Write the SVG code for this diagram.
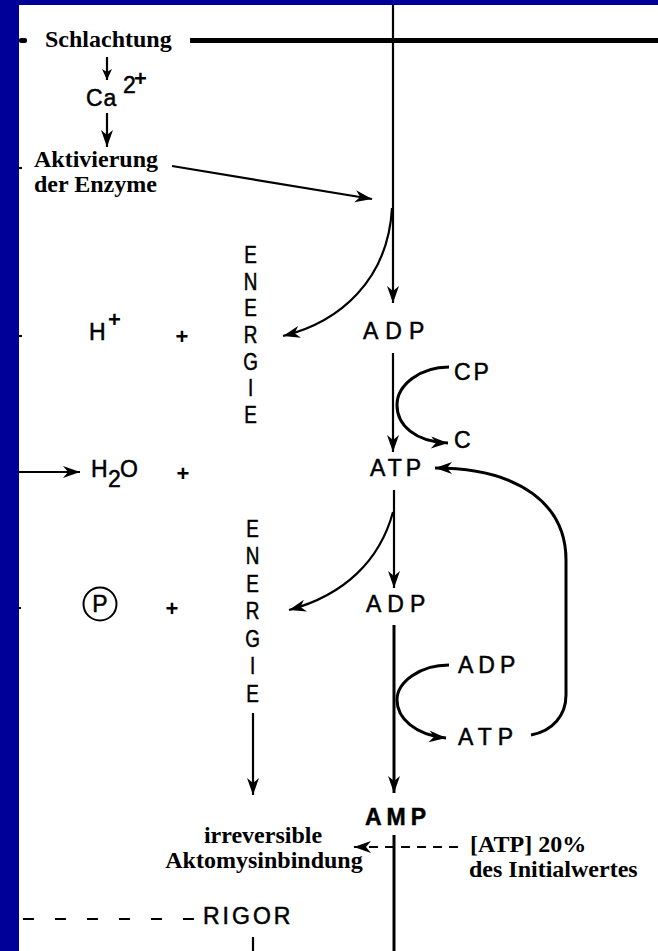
<svg xmlns="http://www.w3.org/2000/svg" width="658" height="951" viewBox="0 0 658 951">
<style>
.s{font-family:"Liberation Serif","Times New Roman",serif;font-weight:bold;font-size:24px;fill:#000}
.l{font-family:"Liberation Sans",Arial,sans-serif;font-size:23px;fill:#000;stroke:#000;stroke-width:0.5}
.ln{fill:none;stroke:#000;stroke-width:2.2}
.th{fill:none;stroke:#000;stroke-width:3}
.pl{font-family:"Liberation Sans",Arial,sans-serif;font-size:22px;font-weight:bold;fill:#000}
</style>
<defs>
<marker id="ah" markerUnits="userSpaceOnUse" viewBox="-18 -8 20 16" markerWidth="20" markerHeight="16" refX="0" refY="0" orient="auto"><path d="M0,0 L-17,-6 L-12,0 L-17,6 Z" fill="#000"/></marker>
<marker id="as" markerUnits="userSpaceOnUse" viewBox="-12 -6 14 12" markerWidth="14" markerHeight="12" refX="0" refY="0" orient="auto"><path d="M0,0 L-11,-5 L-8,0 L-11,5 Z" fill="#000"/></marker>
</defs>
<rect x="0" y="0" width="658" height="951" fill="#fff"/>
<rect x="0" y="0" width="658" height="5" fill="#000099"/>
<rect x="0" y="0" width="19" height="951" fill="#000099"/>

<g id="connectors">
<rect x="19" y="38" width="8" height="5" rx="2" fill="#000"/>
<line x1="190" y1="40.5" x2="658" y2="40.5" stroke="#000" stroke-width="5"/>
<path class="ln" d="M19,168 L22,168 M19,336 L22,336 M19,608 L21,608"/>
<path class="ln" d="M107,57 L107,80" marker-end="url(#as)"/>
<path class="ln" d="M107,113 L107,147" marker-end="url(#ah)"/>
<path class="ln" d="M172,166 L372,199" marker-end="url(#ah)"/>
<path class="ln" d="M393,5 L393,303" marker-end="url(#ah)"/>
<path class="ln" d="M392,208 C388,280 340,322 283,336" marker-end="url(#ah)"/>
<path class="ln" d="M393,353 L393,452" marker-end="url(#ah)"/>
<path class="th" d="M449,367 C420,367 397,385 397,405 C397,425 415,442 448,443" marker-end="url(#ah)"/>
<path class="th" d="M531,735 C553,731 566,715 566,695 L566,560 C566,505 520,468 435,468" marker-end="url(#ah)"/>
<path class="ln" d="M394,490 L394,588" marker-end="url(#ah)"/>
<path class="ln" d="M393,512 C380,560 345,595 289,610" marker-end="url(#ah)"/>
<path class="th" d="M394,625 L394,793" marker-end="url(#ah)"/>
<path class="th" d="M449,665 C420,665 397,682 397,700 C397,718 415,735 446,738" marker-end="url(#ah)"/>
<path class="ln" d="M19,472 L80,472" marker-end="url(#ah)"/>
<path class="ln" d="M253,713 L253,795" marker-end="url(#ah)"/>
<path class="th" d="M394,835 L394,951"/>
<path class="ln" d="M458,847 L354,847" stroke-dasharray="9 7" marker-end="url(#ah)"/>
<path class="ln" d="M23,919 L200,919" stroke-dasharray="11 21"/>
<path class="ln" d="M253,937 L253,951"/>
</g>

<g id="schlachtung"><text class="s" x="45" y="47">Schlachtung</text></g>
<g id="ca"><text class="l" x="86" y="106" font-size="25" letter-spacing="1" stroke-width="0.8">Ca</text><text class="l" x="123" y="93" font-size="17">2</text><text class="pl" x="134" y="86" font-size="10">+</text></g>
<g id="aktivierung"><text class="s" x="34" y="167">Aktivierung</text><text class="s" x="34" y="192">der Enzyme</text></g>

<g id="hplus"><text class="l" x="89" y="340">H</text><text class="pl" x="108" y="327" font-size="15">+</text></g>
<g id="plus1"><text class="pl" x="182" y="344" text-anchor="middle">+</text></g>
<g id="energie1"><text class="l" font-size="29" text-anchor="middle" stroke-width="0.8" transform="translate(250.5,0) scale(0.82,1)"><tspan x="0" y="263">E</tspan><tspan x="0" y="289.7">N</tspan><tspan x="0" y="316.3">E</tspan><tspan x="0" y="343">R</tspan><tspan x="0" y="369.7">G</tspan><tspan x="0" y="396.3">I</tspan><tspan x="0" y="423">E</tspan></text></g>
<g id="adp1"><text class="l" x="363" y="339" letter-spacing="7">ADP</text></g>
<g id="cp"><text class="l" x="454" y="380" letter-spacing="3">CP</text></g>
<g id="c"><text class="l" x="454" y="448">C</text></g>
<g id="atp1"><text class="l" x="370" y="476" letter-spacing="4">ATP</text></g>

<g id="h2o"><text class="l" x="91" y="477" font-size="24">H</text><text class="l" x="108" y="487" font-size="16">2</text><text class="l" x="120" y="477" font-size="24">O</text></g>
<g id="plus2"><text class="pl" x="183" y="481" text-anchor="middle">+</text></g>

<g id="p"><circle cx="100" cy="604" r="16.5" fill="none" stroke="#000" stroke-width="2"/><text class="l" x="100" y="612" font-size="21" text-anchor="middle">P</text></g>
<g id="plus3"><text class="pl" x="172" y="616" text-anchor="middle">+</text></g>
<g id="energie2"><text class="l" font-size="29" text-anchor="middle" stroke-width="0.8" transform="translate(252.5,0) scale(0.82,1)"><tspan x="0" y="537">E</tspan><tspan x="0" y="564.5">N</tspan><tspan x="0" y="592">E</tspan><tspan x="0" y="619.5">R</tspan><tspan x="0" y="647">G</tspan><tspan x="0" y="674.5">I</tspan><tspan x="0" y="702">E</tspan></text></g>
<g id="adp2"><text class="l" x="366" y="612" letter-spacing="6">ADP</text></g>
<g id="adp3"><text class="l" x="458" y="673" letter-spacing="5">ADP</text></g>
<g id="atp3"><text class="l" x="458" y="745" letter-spacing="6">ATP</text></g>
<g id="amp"><text class="l" x="365" y="825" font-weight="bold" letter-spacing="5">AMP</text></g>

<g id="aktomysin"><text class="s" x="263" y="843" text-anchor="middle">irreversible</text><text class="s" x="264" y="868" text-anchor="middle">Aktomysinbindung</text></g>
<g id="atp20"><text class="s" x="470" y="852">[ATP] 20%</text><text class="s" x="469" y="877">des Initialwertes</text></g>
<g id="rigor"><text class="l" x="203" y="924" font-size="25" letter-spacing="3">RIGOR</text></g>
</svg>
